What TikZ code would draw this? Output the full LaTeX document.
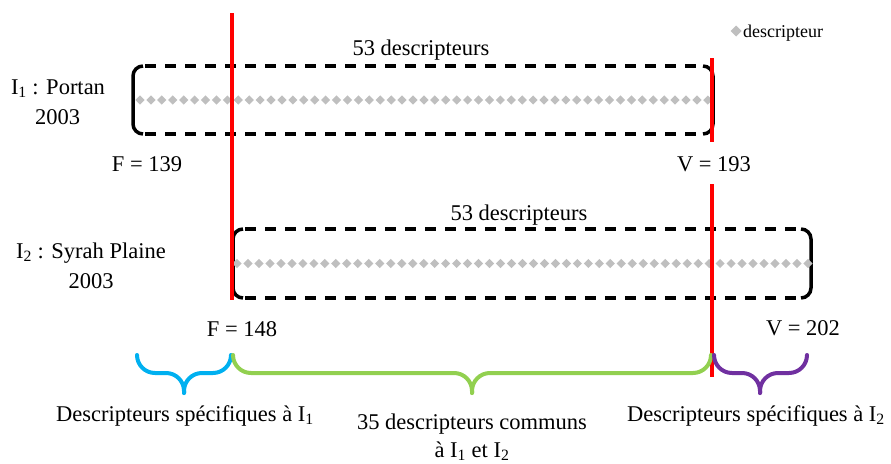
\documentclass[tikz,border=0pt]{standalone}
\usepackage{fontspec}
\setmainfont{Liberation Serif}
\definecolor{dgray}{HTML}{BFBFBF}
\definecolor{bblue}{HTML}{00B0F0}
\definecolor{bgreen}{HTML}{92D050}
\definecolor{bpurple}{HTML}{7030A0}
\tikzset{
  boxsolid/.style={line width=3.5pt,rounded corners=10pt,line cap=butt},
  boxdash/.style={line width=3.5pt,dash pattern=on 11pt off 9pt},
  redline/.style={red,line width=4pt},
  bracestyle/.style={line width=4pt,rounded corners=18pt,line cap=round},
  lbl/.style={inner sep=0pt,anchor=base,font=\fontsize{22.5}{27}\selectfont},
  small/.style={inner sep=0pt,anchor=base west,font=\fontsize{18}{21}\selectfont},
  pics/dmd/.style={code={\fill[dgray] (-#1,0) -- (0,-#1) -- (#1,0) -- (0,#1) -- cycle;}}
}
\begin{document}
\begin{tikzpicture}[x=1pt,y=-1pt]
\useasboundingbox (0,0) rectangle (891,463);
% box 1
\draw[boxsolid] (143,66) -- (133,66) -- (133,134) -- (143,134);
\draw[boxsolid] (703,66) -- (713,66) -- (713,134) -- (703,134);
\draw[boxdash] (145,66) -- (703,66);
\draw[boxdash] (145,134) -- (703,134);
\foreach \i in {0,...,52} \pic (da\i) at ({140+\i*10.92},100) {dmd=4.6};
% box 2
\draw[boxsolid] (243,229) -- (233,229) -- (233,298) -- (243,298);
\draw[boxsolid] (801,229) -- (811,229) -- (811,298) -- (801,298);
\draw[boxdash] (245,229) -- (801,229);
\draw[boxdash] (245,298) -- (801,298);
\foreach \i in {0,...,52} \pic (db\i) at ({237+\i*10.98},263.5) {dmd=4.6};
% red lines
\coordinate (r1t) at (232,13);
\coordinate (r1b) at (232,300);
\coordinate (r2t) at (712,58);
\coordinate (r2m) at (712,142);
\coordinate (r3t) at (712,184);
\coordinate (r3b) at (712,377);
\draw[redline] (r1t) -- (r1b);
\draw[redline] (r2t) -- (r2m);
\draw[redline] (r3t) -- (r3b);
% braces
\draw[bracestyle,bblue] (137,355) |- (184,373) -- (184,393);
\draw[bracestyle,bblue] (231,355) |- (184,373) -- (184,393);
\draw[bracestyle,bgreen] (233,355) |- (472,373) -- (472,393);
\draw[bracestyle,bgreen] (711,355) |- (472,373) -- (472,393);
\draw[bracestyle,bpurple] (714,355) |- (760,373) -- (760,393);
\draw[bracestyle,bpurple] (807,355) |- (760,373) -- (760,393);
% labels
\node[lbl] (t53a) at (421,55) {53 descripteurs};
\node[lbl] (t53b) at (519,220) {53 descripteurs};
\node[lbl] (i1) at (58,94) {I\textsubscript{1} : Portan};
\node[lbl] (i1y) at (57.5,124) {2003};
\node[lbl] (f1) at (147,171) {F = 139};
\node[lbl] (v1) at (714,171) {V = 193};
\node[lbl] (i2) at (91,258) {I\textsubscript{2} : Syrah Plaine};
\node[lbl] (i2y) at (91,288) {2003};
\node[lbl] (f2) at (242,336) {F = 148};
\node[lbl] (v2) at (803,335) {V = 202};
\node[lbl] (s1) at (185,421) {Descripteurs spécifiques à I\textsubscript{1}};
\node[lbl] (c1) at (472,429) {35 descripteurs communs};
\node[lbl] (c2) at (472,457) {à I\textsubscript{1} et I\textsubscript{2}};
\node[lbl] (s2) at (756,421) {Descripteurs spécifiques à I\textsubscript{2}};
% legend
\pic (legd) at (736,31) {dmd=5.5};
\node[small] (legt) at (743,37) {descripteur};
\end{tikzpicture}
\end{document}
